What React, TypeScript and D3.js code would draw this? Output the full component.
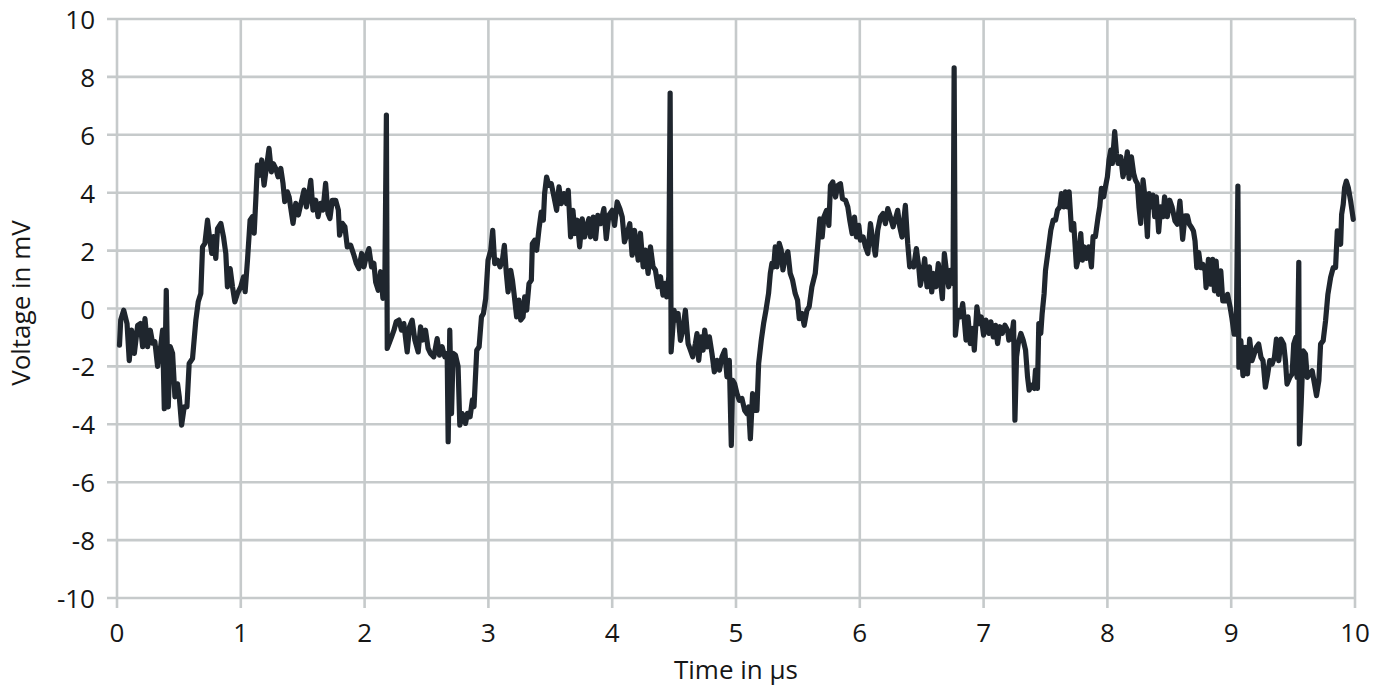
import React from "react";
import * as d3 from "d3";

// Time (µs) / voltage (mV) samples, split in windows
const window0to1_4: [number, number][] = [
  [0.02, -1.27], [0.03, -0.4], [0.054, -0.06], [0.081, -0.52], [0.099, -1.8], [0.118, -0.75], [0.14, -1.55],
  [0.167, -0.58], [0.188, -0.52], [0.207, -1.32], [0.226, -0.35], [0.247, -1.32], [0.269, -0.75], [0.288, -1.2],
  [0.306, -1.15], [0.328, -2.0], [0.349, -1.44], [0.368, -0.75], [0.382, -3.46], [0.398, 0.63], [0.414, -3.4],
  [0.43, -1.32], [0.449, -1.55], [0.468, -3.05], [0.489, -2.6], [0.503, -3.05], [0.522, -4.03], [0.543, -3.4],
  [0.565, -3.4], [0.583, -1.9], [0.61, -1.73], [0.637, -0.4], [0.656, 0.23], [0.677, 0.52], [0.691, 2.13],
  [0.71, 2.25], [0.731, 3.05], [0.75, 2.36], [0.766, 1.9], [0.78, 2.48], [0.798, 1.73], [0.812, 2.76],
  [0.839, 2.94], [0.86, 2.48], [0.879, 1.9], [0.892, 0.75], [0.914, 1.38], [0.933, 0.75], [0.952, 0.23],
  [0.973, 0.52], [1.0, 0.75], [1.022, 1.09], [1.035, 0.58], [1.054, 1.67], [1.075, 3.05], [1.094, 3.17],
  [1.108, 2.6], [1.121, 3.74], [1.134, 4.95], [1.153, 4.6], [1.169, 5.13], [1.188, 4.26], [1.204, 4.78],
  [1.228, 5.53], [1.247, 4.72], [1.263, 5.0], [1.282, 4.84], [1.301, 4.55], [1.323, 4.84], [1.341, 4.32],
  [1.355, 3.69], [1.376, 4.03],
];

const window1_4to2_8: [number, number][] = [
  [1.39, 3.86], [1.422, 2.94], [1.444, 3.63], [1.465, 3.23], [1.492, 3.74], [1.511, 4.09], [1.53, 3.51],
  [1.546, 3.86], [1.565, 4.43], [1.583, 3.4], [1.605, 3.74], [1.624, 3.17], [1.645, 3.63], [1.664, 3.4],
  [1.685, 4.32], [1.704, 3.28], [1.72, 3.11], [1.739, 3.74], [1.766, 3.74], [1.788, 3.4], [1.798, 2.53],
  [1.82, 2.94], [1.841, 2.82], [1.86, 2.13], [1.887, 2.19], [1.914, 1.84], [1.933, 1.56], [1.954, 1.38],
  [1.976, 1.9], [1.995, 1.44], [2.013, 1.79], [2.035, 2.07], [2.056, 1.44], [2.075, 1.56], [2.089, 0.92],
  [2.11, 0.63], [2.129, 1.27], [2.148, 0.35], [2.164, 1.15], [2.176, 6.68], [2.183, -1.38], [2.218, -0.98],
  [2.237, -0.75], [2.255, -0.46], [2.277, -0.4], [2.298, -0.75], [2.317, -0.52], [2.344, -1.5], [2.363, -0.63],
  [2.384, -0.4], [2.406, -1.09], [2.433, -1.5], [2.452, -0.63], [2.47, -1.09], [2.492, -0.75], [2.513, -1.38],
  [2.532, -1.55], [2.559, -1.67], [2.586, -1.04], [2.605, -1.61], [2.626, -1.32], [2.648, -1.67], [2.667, -1.55],
  [2.675, -4.6], [2.688, -0.75], [2.702, -3.63], [2.715, -1.55], [2.734, -1.61], [2.755, -2.0], [2.769, -4.03],
  [2.788, -3.63], [2.815, -3.97],
];

const window2_8to4_2: [number, number][] = [
  [2.831, -3.62], [2.852, -3.74], [2.871, -3.16], [2.884, -3.39], [2.906, -1.44], [2.925, -1.32], [2.944, -0.29],
  [2.96, -0.17], [2.978, 0.34], [2.997, 1.67], [3.019, 2.01], [3.035, 2.7], [3.051, 1.55], [3.073, 1.67],
  [3.094, 1.44], [3.113, 1.67], [3.129, 2.18], [3.145, 1.21], [3.159, 0.57], [3.18, 1.32], [3.194, 0.98],
  [3.207, 0.52], [3.228, -0.29], [3.247, 0.29], [3.261, -0.4], [3.28, -0.29], [3.293, 0.4], [3.309, -0.06],
  [3.328, 0.86], [3.347, 0.98], [3.355, 2.24], [3.374, 2.36], [3.39, 2.01], [3.409, 2.76], [3.427, 3.33],
  [3.444, 3.05], [3.454, 3.97], [3.47, 4.54], [3.489, 4.25], [3.508, 4.31], [3.53, 3.85], [3.551, 3.39],
  [3.57, 4.2], [3.589, 3.62], [3.61, 3.97], [3.632, 3.62], [3.645, 4.08], [3.664, 2.47], [3.683, 3.39],
  [3.699, 2.59], [3.718, 3.05], [3.737, 2.13], [3.758, 3.1], [3.777, 2.47], [3.793, 2.82], [3.812, 3.1],
  [3.825, 2.47], [3.847, 3.16], [3.866, 2.41], [3.884, 3.22], [3.906, 2.93], [3.933, 3.45], [3.952, 2.41],
  [3.973, 3.22], [4.0, 3.39], [4.019, 2.87], [4.04, 3.68], [4.062, 3.45], [4.081, 3.16], [4.099, 2.3],
  [4.121, 2.59], [4.142, 2.93], [4.161, 1.84], [4.18, 2.7],
];

const window4_2to5_6: [number, number][] = [
  [4.21, 1.67], [4.228, 2.6], [4.25, 1.44], [4.269, 2.02], [4.29, 1.21], [4.309, 2.13], [4.33, 1.44],
  [4.349, 1.33], [4.37, 0.75], [4.39, 1.1], [4.41, 0.46], [4.425, 0.87], [4.44, 0.4], [4.457, 1.1],
  [4.468, 7.44], [4.476, -1.5], [4.5, -0.06], [4.516, -0.4], [4.532, -0.17], [4.551, -1.1], [4.57, -0.75],
  [4.591, -0.06], [4.613, -1.21], [4.632, -1.44], [4.651, -1.67], [4.672, -1.21], [4.685, -0.87], [4.699, -1.79],
  [4.718, -0.98], [4.734, -1.44], [4.747, -0.75], [4.766, -1.33], [4.785, -0.98], [4.806, -1.56], [4.825, -2.19],
  [4.847, -1.79], [4.866, -2.13], [4.887, -1.67], [4.909, -1.44], [4.927, -2.36], [4.946, -1.79], [4.962, -4.73],
  [4.973, -2.48], [4.989, -2.6], [5.008, -2.94], [5.027, -3.17], [5.048, -3.11], [5.07, -3.52], [5.089, -3.63],
  [5.102, -3.4], [5.116, -4.5], [5.134, -2.94], [5.15, -3.52], [5.169, -3.52], [5.183, -1.9], [5.204, -1.1],
  [5.223, -0.52], [5.242, -0.06], [5.263, 0.52], [5.277, 1.21], [5.29, 1.56], [5.304, 1.44], [5.317, 2.13],
  [5.331, 1.44], [5.349, 2.25], [5.365, 2.02], [5.379, 1.33], [5.398, 1.79], [5.419, 1.96], [5.438, 1.21],
  [5.457, 0.98], [5.478, 0.52], [5.497, 0.29], [5.511, -0.35], [5.532, -0.17], [5.551, -0.58], [5.573, -0.06],
  [5.591, 0.06], [5.613, 0.75],
];

const window5_6to7_0: [number, number][] = [
  [5.64, 1.21], [5.661, 2.24], [5.677, 3.1], [5.696, 2.47], [5.71, 3.16], [5.731, 3.39], [5.75, 2.87],
  [5.763, 4.25], [5.782, 4.37], [5.804, 3.85], [5.823, 4.25], [5.844, 4.31], [5.86, 3.79], [5.884, 3.74],
  [5.903, 3.51], [5.919, 3.05], [5.938, 2.59], [5.957, 3.16], [5.973, 2.47], [5.992, 2.87], [6.005, 2.36],
  [6.027, 2.47], [6.046, 2.13], [6.065, 1.9], [6.086, 2.93], [6.105, 2.36], [6.126, 1.84], [6.145, 2.7],
  [6.167, 3.16], [6.188, 3.28], [6.207, 2.93], [6.226, 3.45], [6.247, 3.16], [6.269, 2.82], [6.288, 3.1],
  [6.306, 3.39], [6.323, 2.82], [6.341, 2.47], [6.368, 3.56], [6.387, 2.24], [6.403, 1.44], [6.422, 1.55],
  [6.435, 1.44], [6.457, 2.07], [6.476, 1.44], [6.489, 0.8], [6.508, 1.21], [6.524, 1.72], [6.543, 0.75],
  [6.562, 1.44], [6.581, 0.57], [6.597, 1.21], [6.616, 0.75], [6.634, 1.55], [6.651, 0.98], [6.667, 0.34],
  [6.683, 1.9], [6.699, 1.32], [6.718, 0.75], [6.731, 1.32], [6.753, 0.86], [6.762, 8.31], [6.772, -0.92],
  [6.793, -0.06], [6.812, -0.29], [6.831, 0.17], [6.844, -0.4], [6.858, -1.09], [6.874, -0.29], [6.892, -1.21],
  [6.911, -0.69], [6.925, -1.44], [6.946, 0.06], [6.965, -0.52], [6.981, -0.29], [7.0, -0.92], [7.019, -0.4],
];

const window7_0to8_5: [number, number][] = [
  [7.043, -0.86], [7.059, -0.46], [7.078, -0.98], [7.097, -0.58], [7.113, -1.21], [7.132, -0.63], [7.151, -0.86],
  [7.172, -0.58], [7.194, -0.75], [7.204, -1.09], [7.226, -0.98], [7.242, -0.46], [7.253, -3.86], [7.266, -1.67],
  [7.28, -1.21], [7.301, -0.86], [7.32, -1.09], [7.339, -1.44], [7.355, -2.36], [7.368, -2.82], [7.387, -2.65],
  [7.409, -2.76], [7.419, -2.13], [7.435, -2.76], [7.446, -0.52], [7.462, -0.86], [7.473, -0.17], [7.489, 0.52],
  [7.5, 1.32], [7.522, 2.02], [7.543, 2.71], [7.562, 3.05], [7.581, 3.05], [7.597, 3.4], [7.616, 3.51],
  [7.629, 3.97], [7.648, 3.51], [7.661, 4.03], [7.677, 3.51], [7.691, 4.03], [7.71, 2.71], [7.728, 2.94],
  [7.75, 1.44], [7.769, 1.79], [7.785, 2.59], [7.798, 1.67], [7.812, 2.13], [7.831, 1.73], [7.849, 2.13],
  [7.871, 1.44], [7.884, 2.48], [7.903, 2.48], [7.925, 3.17], [7.938, 3.51], [7.952, 4.15], [7.97, 3.86],
  [7.984, 4.2], [8.0, 4.55], [8.013, 5.13], [8.027, 5.47], [8.04, 5.01], [8.059, 6.11], [8.073, 5.36],
  [8.086, 5.01], [8.108, 5.24], [8.126, 4.55], [8.145, 4.9], [8.161, 5.41], [8.175, 4.49], [8.194, 5.24],
  [8.212, 4.67], [8.226, 4.44], [8.242, 4.32], [8.255, 3.51], [8.269, 2.94], [8.288, 4.44], [8.306, 3.74],
  [8.323, 2.48], [8.336, 3.97], [8.355, 3.51], [8.368, 3.92], [8.382, 3.17], [8.395, 3.86], [8.414, 2.65],
  [8.43, 3.51], [8.449, 3.17], [8.462, 3.86], [8.484, 3.17], [8.503, 3.74], [8.522, 3.51],
];

const window8_5to10: [number, number][] = [
  [8.546, 3.02], [8.565, 2.91], [8.586, 3.71], [8.608, 2.39], [8.627, 3.2], [8.646, 3.2], [8.662, 2.91],
  [8.681, 2.79], [8.695, 2.68], [8.708, 2.33], [8.722, 1.41], [8.738, 1.93], [8.754, 1.41], [8.77, 1.53],
  [8.789, 1.3], [8.797, 0.72], [8.816, 1.7], [8.83, 0.84], [8.851, 1.7], [8.865, 0.61], [8.878, 1.64],
  [8.897, 0.49], [8.916, 1.3], [8.932, 0.26], [8.951, 0.26], [8.97, 0.49], [8.992, 0.03], [9.005, -0.31],
  [9.024, -0.89], [9.041, -0.89], [9.054, 4.23], [9.062, -2.03], [9.078, -1.11], [9.095, -2.32], [9.114, -1.34],
  [9.132, -2.26], [9.149, -1.06], [9.168, -1.8], [9.186, -1.57], [9.203, -1.34], [9.222, -1.23], [9.241, -1.69],
  [9.257, -1.8], [9.276, -2.72], [9.295, -2.26], [9.311, -1.8], [9.33, -1.92], [9.349, -1.69], [9.365, -1.06],
  [9.384, -1.8], [9.403, -1.06], [9.424, -1.23], [9.438, -1.8], [9.451, -2.61], [9.473, -2.38], [9.492, -2.26],
  [9.505, -1.23], [9.522, -1.0], [9.532, -2.38], [9.546, 1.59], [9.551, -4.68], [9.565, -3.3], [9.581, -1.46],
  [9.6, -1.57], [9.614, -2.38], [9.635, -2.26], [9.654, -2.15], [9.673, -2.61], [9.689, -3.01], [9.708, -2.49],
  [9.722, -1.23], [9.743, -1.11], [9.762, -0.43], [9.781, 0.49], [9.803, 1.07], [9.824, 1.41], [9.843, 1.41],
  [9.857, 2.68], [9.87, 2.45], [9.884, 2.22], [9.892, 3.25], [9.905, 3.6], [9.916, 4.17], [9.93, 4.4],
  [9.946, 4.17], [9.965, 3.71], [9.986, 3.08],
];

const xTicks = [0, 1, 2, 3, 4, 5, 6, 7, 8, 9, 10];
const yTicks = [-10, -8, -6, -4, -2, 0, 2, 4, 6, 8, 10];
const xTitle = "Time in µs";
const yTitle = "Voltage in mV";

const W = 1386;
const H = 691;
const FONT = "'Open Sans', 'Noto Sans', sans-serif";
const GRID = "#c6cacb";
const LINE = "#1f262e";
const TEXT = "#161616";

export default function App() {
  const samples = [
    ...window0to1_4,
    ...window1_4to2_8,
    ...window2_8to4_2,
    ...window4_2to5_6,
    ...window5_6to7_0,
    ...window7_0to8_5,
    ...window8_5to10,
  ];
  const x = d3.scaleLinear().domain([0, 10]).range([117, 1355]);
  const y = d3.scaleLinear().domain([-10, 10]).range([598, 19]);
  const line = d3
    .line<[number, number]>()
    .x((d) => x(d[0]))
    .y((d) => y(d[1]));
  const tickExt = 10;

  return (
    <svg
      width={W}
      height={H}
      style={{ position: "fixed", left: 0, top: 0, background: "#fff" }}
      fontFamily={FONT}
    >
      <rect width={W} height={H} fill="#fff" />
      <g>
        {yTicks.map((t) => (
          <line
            key={"h" + t}
            x1={x(0) - tickExt}
            x2={x(10)}
            y1={y(t)}
            y2={y(t)}
            stroke={GRID}
            strokeWidth={2.6}
          />
        ))}
        {xTicks.map((t) => (
          <line
            key={"v" + t}
            x1={x(t)}
            x2={x(t)}
            y1={y(10)}
            y2={y(-10) + tickExt}
            stroke={GRID}
            strokeWidth={2.6}
          />
        ))}
      </g>
      <path
        d={line(samples) || ""}
        fill="none"
        stroke={LINE}
        strokeWidth={5.2}
        strokeLinejoin="round"
        strokeLinecap="round"
      />
      <g fill={TEXT} fontSize={26}>
        {yTicks.map((t) => (
          <text key={"yl" + t} x={95} y={y(t)} textAnchor="end" dominantBaseline="central">
            {t}
          </text>
        ))}
        {xTicks.map((t) => (
          <text key={"xl" + t} x={x(t)} y={642} textAnchor="middle">
            {t}
          </text>
        ))}
        <text x={736} y={679} textAnchor="middle">
          {xTitle}
        </text>
        <text
          transform={`translate(30, ${303}) rotate(-90)`}
          textAnchor="middle"
        >
          {yTitle}
        </text>
      </g>
    </svg>
  );
}
